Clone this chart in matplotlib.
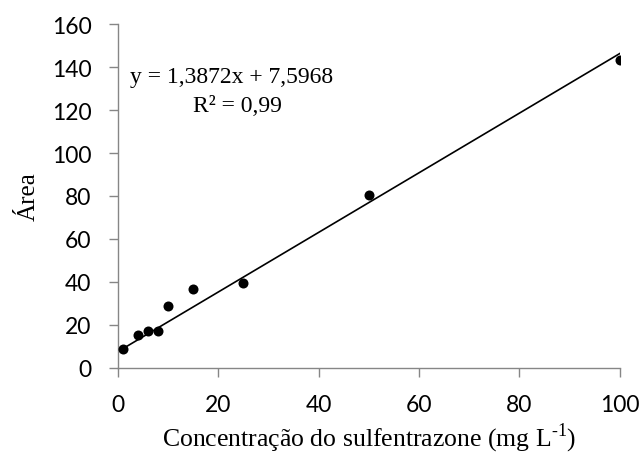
import matplotlib.pyplot as plt
import numpy as np

# Calibration data: sulfentrazone concentration vs. peak area
conc = [1, 4, 6, 8, 10, 15, 25, 50, 100]
area = [8.7, 15.5, 17.0, 17.0, 29.0, 36.7, 39.3, 80.5, 143.5]

slope = 1.3872
intercept = 7.5968
r2_label = "0,99"

x_ticks = [0, 20, 40, 60, 80, 100]
y_ticks = [0, 20, 40, 60, 80, 100, 120, 140, 160]

fig = plt.figure(figsize=(6.43, 4.56), dpi=100)
ax = fig.add_axes([0.1835, 0.191, 0.7805, 0.754])

# Linear trendline over the full concentration range
x_line = np.array([0, 100])
ax.plot(x_line, slope * x_line + intercept, color="black", lw=1.2, zorder=2)
ax.scatter(conc, area, s=52, color="black", zorder=3, linewidths=0)

ax.set_xlim(0, 100)
ax.set_ylim(0, 160)
ax.set_xticks(x_ticks)
ax.set_yticks(y_ticks)

tick_font = {"family": "Lato", "size": 16.5}
ax.set_xticklabels([str(t) for t in x_ticks], fontdict=tick_font)
ax.set_yticklabels([str(t) for t in y_ticks], fontdict=tick_font)

spine_color = "#868686"
for side in ("top", "right"):
    ax.spines[side].set_visible(False)
for side in ("left", "bottom"):
    ax.spines[side].set_color(spine_color)
    ax.spines[side].set_linewidth(1.0)
ax.tick_params(axis="y", direction="out", length=6.5, width=1.0,
               color=spine_color, pad=12.5)
ax.tick_params(axis="x", direction="out", length=6.5, width=1.0,
               color=spine_color, pad=12)

serif = "Liberation Serif"
ax.set_xlabel("Concentração do sulfentrazone (mg L$^{\\mathregular{‐1}}$)",
              family=serif, fontsize=18.5, labelpad=4)
ax.set_ylabel("Área", family=serif, fontsize=18, labelpad=9)

eq = "y = {:.4f}x + {:.4f}".format(slope, intercept).replace(".", ",")
ax.text(2.4, 135.8, eq, family=serif, fontsize=17, ha="left", va="center")
ax.text(14.9, 122.3, "R² = " + r2_label, family=serif, fontsize=17,
        ha="left", va="center")

fig.savefig("out.png", dpi=100)
